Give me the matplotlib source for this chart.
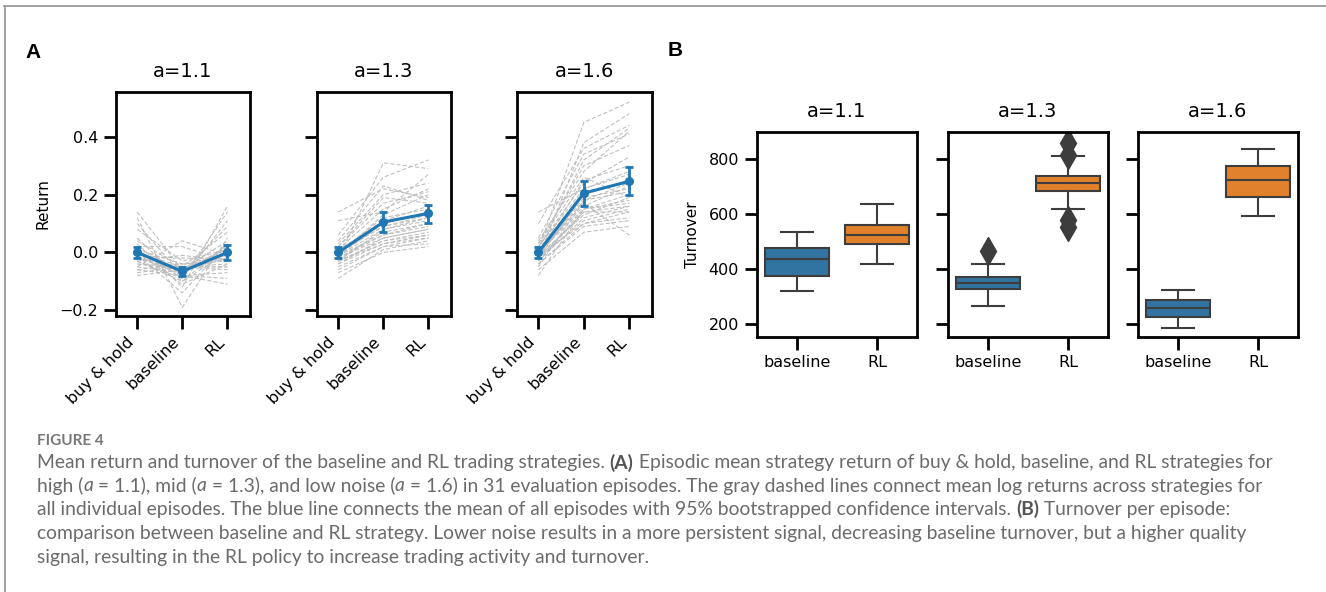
import numpy as np
import matplotlib
matplotlib.use('Agg')
import matplotlib.pyplot as plt
from matplotlib.lines import Line2D

# ---- data ----
strategies = ['buy & hold', 'baseline', 'RL']
noise = ['a=1.1', 'a=1.3', 'a=1.6']

# episode returns, 31 episodes per noise level
bh_11 = [0.14, 0.12, 0.10, 0.08, 0.05, 0.04, 0.03, 0.02, 0.02, 0.01, 0.01, 0.0, 0.0, 0.0, -0.01, -0.01,
         -0.01, -0.02, -0.02, -0.02, -0.03, -0.03, -0.03, -0.04, -0.04, -0.05, -0.05, -0.06, -0.06, -0.07, -0.08]
base_11 = [-0.06, -0.19, -0.08, -0.03, -0.10, -0.05, -0.12, 0.02, -0.07, -0.09, -0.04, -0.06, -0.11, -0.05, -0.08,
           -0.14, -0.02, -0.07, -0.05, -0.06, -0.09, -0.01, -0.10, -0.05, -0.06, 0.04, -0.07, -0.08, -0.04, -0.05, -0.06]
rl_11 = [-0.02, 0.05, -0.09, 0.01, 0.03, -0.05, 0.16, -0.03, 0.02, 0.14, -0.01, 0.0, -0.04, 0.07, -0.11, 0.03,
         -0.02, 0.09, -0.06, 0.01, 0.11, -0.03, 0.0, -0.05, 0.04, -0.01, 0.02, -0.07, -0.03, -0.04, -0.02]

bh_13 = [0.14, 0.11, -0.02, 0.01, -0.04, 0.03, -0.01, 0.06, -0.03, 0.0, 0.02, -0.09, 0.04, -0.02, 0.0, -0.05,
         0.01, -0.03, 0.02, -0.01, -0.07, 0.0, -0.02, -0.04, -0.01, -0.03, -0.06, -0.01, -0.03, -0.02, 0.0]
base_13 = [0.22, 0.14, 0.31, 0.10, 0.05, 0.20, 0.08, 0.26, 0.03, 0.12, 0.17, 0.01, 0.23, 0.07, 0.09, 0.02,
           0.15, 0.04, 0.19, 0.06, 0.0, 0.11, 0.05, 0.03, 0.13, 0.08, 0.02, 0.10, 0.04, 0.06, 0.09]
rl_13 = [0.19, 0.27, 0.29, 0.14, 0.08, 0.24, 0.12, 0.32, 0.06, 0.15, 0.21, 0.04, 0.18, 0.10, 0.13, 0.05,
         0.22, 0.07, 0.17, 0.09, 0.02, 0.16, 0.08, 0.05, 0.20, 0.11, 0.03, 0.14, 0.06, 0.10, 0.12]

bh_16 = [0.01, 0.14, -0.02, 0.03, -0.05, 0.0, 0.10, -0.01, 0.02, -0.03, 0.04, -0.08, 0.0, -0.02, 0.01, -0.04,
         0.02, -0.01, -0.03, 0.05, -0.06, 0.0, -0.02, 0.01, -0.04, -0.01, 0.03, -0.03, -0.02, 0.0, -0.01]
base_16 = [0.45, 0.22, 0.38, 0.30, 0.18, 0.25, 0.36, 0.18, 0.22, 0.12, 0.28, 0.15, 0.15, 0.20, 0.32, 0.10,
           0.24, 0.13, 0.14, 0.34, 0.07, 0.16, 0.11, 0.21, 0.09, 0.19, 0.26, 0.15, 0.14, 0.17, 0.10]
rl_16 = [0.52, 0.28, 0.48, 0.37, 0.21, 0.30, 0.44, 0.24, 0.27, 0.16, 0.42, 0.17, 0.20, 0.25, 0.43, 0.12,
         0.33, 0.19, 0.16, 0.41, 0.09, 0.23, 0.15, 0.24, 0.11, 0.22, 0.19, 0.18, 0.14, 0.06, 0.14]

# mean return with 95% CI (blue line)
mean_11, lo_11, hi_11 = [0.0, -0.066, 0.0], [-0.02, -0.083, -0.025], [0.02, -0.049, 0.027]
mean_13, lo_13, hi_13 = [0.0, 0.105, 0.135], [-0.02, 0.07, 0.103], [0.018, 0.14, 0.165]
mean_16, lo_16, hi_16 = [0.0, 0.205, 0.246], [-0.02, 0.16, 0.2], [0.018, 0.248, 0.295]

# turnover box stats: whislo, q1, med, q3, whishi
turn_base_11 = [320, 375, 435, 478, 534]
turn_rl_11 = [420, 490, 522, 559, 637]
turn_base_13 = [265, 327, 349, 371, 419]
turn_rl_13 = [618, 684, 714, 739, 810]
turn_base_16 = [187, 226, 259, 288, 322]
turn_rl_16 = [594, 663, 725, 775, 837]
fliers_base_13 = [465]
fliers_rl_13 = [859, 813, 578, 552]

# ---- figure ----
W, H = 1326, 592
fig = plt.figure(figsize=(W / 100, H / 100), dpi=100)

def ax_px(l, t, r, b):
    return fig.add_axes([l / W, 1 - b / H, (r - l) / W, (b - t) / H])

def style(ax):
    for s in ax.spines.values():
        s.set_linewidth(2)
    ax.tick_params(length=9, width=2, labelsize=11.5, pad=4)

blue = '#1f77b4'

# panel A
A_boxes = [(116, 92, 250, 316), (317, 92, 451, 316), (517, 92, 652, 316)]
episodes = [(bh_11, base_11, rl_11), (bh_13, base_13, rl_13), (bh_16, base_16, rl_16)]
means = [(mean_11, lo_11, hi_11), (mean_13, lo_13, hi_13), (mean_16, lo_16, hi_16)]
x = np.arange(len(strategies))
for i in range(3):
    ax = ax_px(*A_boxes[i])
    bh, bs, rl = episodes[i]
    for j in range(len(bh)):
        ax.plot(x, [bh[j], bs[j], rl[j]], ls='--', color='#bdbdbd', lw=0.75, dashes=(4, 2))
    m, lo, hi = [np.array(v) for v in means[i]]
    ax.errorbar(x, m, yerr=[m - lo, hi - m], color=blue, lw=2.2, marker='o', ms=5.5,
                elinewidth=2, capsize=3, capthick=2, zorder=5)
    ax.set_xlim(-0.47, 2.5)
    ax.set_ylim(-0.22, 0.555)
    ax.set_yticks([-0.2, 0.0, 0.2, 0.4])
    ax.set_xticks(x)
    ax.set_xticklabels(strategies, rotation=45, ha='right', fontsize=11)
    ax.set_title(noise[i], fontsize=14, pad=10.5)
    style(ax)
    if i == 0:
        ax.set_ylabel('Return', fontsize=11, labelpad=6)
    else:
        ax.set_yticklabels([])

# panel B
B_boxes = [(757, 132, 917, 337), (948, 132, 1108, 337), (1138, 132, 1298, 337)]
turn = [(turn_base_11, turn_rl_11, [], []), (turn_base_13, turn_rl_13, fliers_base_13, fliers_rl_13),
        (turn_base_16, turn_rl_16, [], [])]
box_cols = ['#3274a1', '#e1812c']
edge = '#3d3d3d'
for i in range(3):
    ax = ax_px(*B_boxes[i])
    stats = []
    for k in range(2):
        v = turn[i][k]
        stats.append(dict(whislo=v[0], q1=v[1], med=v[2], q3=v[3], whishi=v[4], fliers=turn[i][k + 2]))
    bp = ax.bxp(stats, positions=[0, 1], widths=0.8, patch_artist=True, capwidths=0.4,
                boxprops=dict(edgecolor=edge, linewidth=1.5),
                whiskerprops=dict(color=edge, linewidth=1.5),
                capprops=dict(color=edge, linewidth=1.5),
                medianprops=dict(color=edge, linewidth=1.5),
                flierprops=dict(marker='d', markerfacecolor=edge, markeredgecolor=edge, markersize=14))
    for patch, c in zip(bp['boxes'], box_cols):
        patch.set_facecolor(c)
    ax.set_xlim(-0.5, 1.5)
    ax.set_ylim(153, 898)
    ax.set_yticks([200, 400, 600, 800])
    ax.set_xticks([0, 1])
    ax.set_xticklabels(['baseline', 'RL'], fontsize=11)
    ax.set_title(noise[i], fontsize=14, pad=11)
    style(ax)
    if i == 0:
        ax.set_ylabel('Turnover', fontsize=11, labelpad=6)
    else:
        ax.set_yticklabels([])

# panel letters
fig.text(33.5 / W, 1 - 52 / H, 'A', fontsize=15, fontweight='bold', family='Liberation Sans', ha='center', va='center')
fig.text(675 / W, 1 - 51 / H, 'B', fontsize=15, fontweight='bold', family='Liberation Sans', ha='center', va='center')

# outer frame lines
fig.add_artist(Line2D([4 / W, 1], [1 - 6 / H, 1 - 6 / H], transform=fig.transFigure, color='#9a9a9a', lw=1.3))
fig.add_artist(Line2D([4.5 / W, 4.5 / W], [0, 1 - 6 / H], transform=fig.transFigure, color='#9a9a9a', lw=1.3))

# caption
cap_font = 'Lato'
cap_col = '#6b6b6b'
renderer = fig.canvas.get_renderer()

def seg_width(s, fs, kw):
    t1 = fig.text(0, 0, s + 'x', fontsize=fs, family=cap_font, **kw)
    t2 = fig.text(0, 0, 'x', fontsize=fs, family=cap_font, **kw)
    w = t1.get_window_extent(renderer).width - t2.get_window_extent(renderer).width
    t1.remove()
    t2.remove()
    return w

B = dict(fontweight='bold', color='#555555')
I = dict(style='italic')
N = {}
lines = [
    [('Mean return and turnover of the baseline and RL trading strategies. ', N), ('(A)', B),
     (' Episodic mean strategy return of buy & hold, baseline, and RL strategies for', N)],
    [('high (', N), ('a', I), (' = 1.1), mid (', N), ('a', I), (' = 1.3), and low noise (', N), ('a', I),
     (' = 1.6) in 31 evaluation episodes. The gray dashed lines connect mean log returns across strategies for', N)],
    [('all individual episodes. The blue line connects the mean of all episodes with 95% bootstrapped confidence intervals. ', N),
     ('(B)', B), (' Turnover per episode:', N)],
    [('comparison between baseline and RL strategy. Lower noise results in a more persistent signal, decreasing baseline turnover, but a higher quality', N)],
    [('signal, resulting in the RL policy to increase trading activity and turnover.', N)],
]
w0 = sum(seg_width(s, 12, kw) for s, kw in lines[0])
fs = 12 * (1269 - 37) / w0
ys = [462.5, 485.5, 509, 533, 557]
for y, segs in zip(ys, lines):
    xx = 37
    for s, kw in segs:
        opts = dict(color=cap_col)
        opts.update(kw)
        fig.text(xx / W, 1 - y / H, s, fontsize=fs, family=cap_font, va='center', ha='left', **opts)
        xx += seg_width(s, fs, kw)

fig.text(37 / W, 1 - 441 / H, 'FIGURE 4', fontsize=11, family=cap_font, fontweight='bold', color='#777777',
         va='center', ha='left')

fig.savefig('out.png', dpi=100)
